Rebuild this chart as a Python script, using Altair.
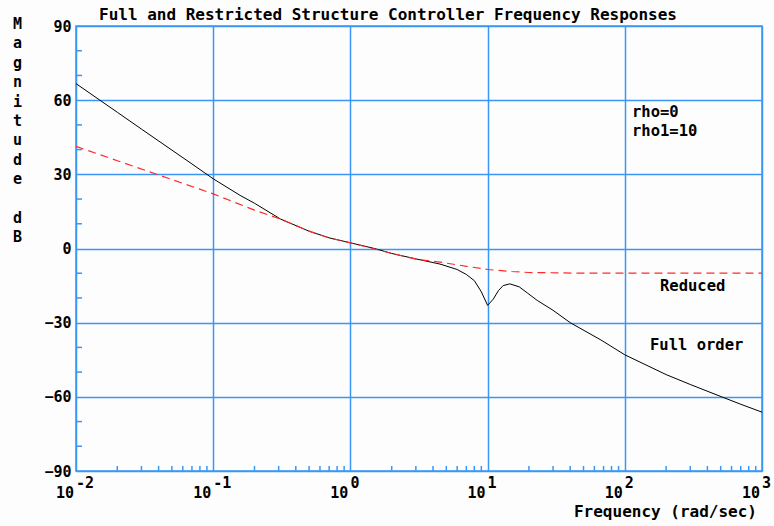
import altair as alt
import pandas as pd

# ---- data ----
full_freq = [0.01, 0.02, 0.03, 0.05, 0.07, 0.1, 0.157, 0.2, 0.31, 0.5, 0.7, 1, 1.5, 2, 3, 4.5, 6, 7, 8, 9, 10,
             11, 12, 13, 14.5, 17, 19.5, 23, 30, 40, 67, 100, 200, 300, 508, 700, 1000]
full_mag = [66.7, 55.1, 48.3, 39.8, 34.2, 28.2, 21.5, 18.3, 11.9, 7.0, 4.3, 2.3, 0.0, -2.0, -4.2, -6.3, -8.5,
            -10.5, -13.0, -17.5, -23.0, -20.5, -17.0, -15.0, -14.3, -15.5, -18.0, -21.0, -25.0, -30.0, -37.0,
            -43.0, -51.0, -55.0, -60.0, -63.0, -66.2]

red_freq = [0.01, 0.02, 0.05, 0.1, 0.2, 0.31, 0.5, 0.7, 1, 2, 3, 4.5, 7, 10, 15, 20, 50, 100, 1000]
red_mag = [41.3, 35.5, 27.9, 22.1, 15.5, 11.9, 7.0, 4.3, 2.3, -2.0, -4.3, -5.5, -7.2, -8.5, -9.3, -9.7,
           -10.0, -10.0, -10.0]

decades = [0.01, 0.1, 1, 10, 100, 1000]
exponents = ["-2", "-1", "0", "1", "2", "3"]
y_major = [-90, -60, -30, 0, 30, 60, 90]
y_minor = [-80, -70, -50, -40, -20, -10, 10, 20, 40, 50, 70, 80]
minor_mult = [2, 3, 4, 5, 6, 7, 8, 9]
x_minor = [m * d for d in decades[:-1] for m in minor_mult]

title_text = "Full and Restricted Structure Controller Frequency Responses"
ylabel_word1 = "M\na\ng\nn\ni\nt\nu\nd\ne"
ylabel_word2 = "d\nB"
xlabel_text = "Frequency (rad/sec)"

BLUE = "#3a96f7"
FONT = "DejaVu Sans Mono"
W, H = 686, 445
LH = 19.4

full_df = pd.DataFrame({"freq": full_freq, "mag": full_mag})
red_df = pd.DataFrame({"freq": red_freq, "mag": red_mag})
dec_df = pd.DataFrame({"freq": decades, "exp": exponents, "ten": ["10"] * len(decades)})
xmin_df = pd.DataFrame({"freq": x_minor})
ymin_df = pd.DataFrame({"mag": y_minor})
one = pd.DataFrame({"a": [0]})

xscale = alt.Scale(type="log", domain=[0.01, 1000], nice=False)
yscale = alt.Scale(domain=[-90, 90], nice=False)
xaxis = alt.Axis(values=decades, grid=True, gridColor=BLUE, gridWidth=1.5, gridOpacity=1,
                 labels=False, ticks=False, domain=False, title=None)
yaxis = alt.Axis(values=y_major, grid=True, gridColor=BLUE, gridWidth=1.5, gridOpacity=1,
                 ticks=False, domain=False, title=None, labelFont=FONT, labelFontWeight="bold",
                 labelFontSize=15, labelColor="black", labelPadding=5)

X = alt.X("freq:Q", scale=xscale, axis=xaxis)
Y = alt.Y("mag:Q", scale=yscale, axis=yaxis)

full_line = alt.Chart(full_df).mark_line(color="black", strokeWidth=1).encode(x=X, y=Y)
red_line = alt.Chart(red_df).mark_line(color="#ff2a2a", strokeWidth=1.2, strokeDash=[8, 5]).encode(x=X, y=Y)

xminor = alt.Chart(xmin_df).mark_rule(color=BLUE, strokeWidth=1.5).encode(
    x=alt.X("freq:Q", scale=xscale, axis=xaxis), y=alt.value(H), y2=alt.value(H - 5))
yminor = alt.Chart(ymin_df).mark_rule(color=BLUE, strokeWidth=1.5).encode(
    y=alt.Y("mag:Q", scale=yscale, axis=yaxis), x=alt.value(0), x2=alt.value(6))

ten_lbl = alt.Chart(dec_df).mark_text(font=FONT, fontWeight="bold", fontSize=15, align="right",
                                      baseline="alphabetic", dx=-2, color="black").encode(
    x=alt.X("freq:Q", scale=xscale, axis=xaxis), y=alt.value(472), text="ten:N")
exp_lbl = alt.Chart(dec_df).mark_text(font=FONT, fontWeight="bold", fontSize=15, align="left",
                                      baseline="alphabetic", dx=0, color="black").encode(
    x=alt.X("freq:Q", scale=xscale, axis=xaxis), y=alt.value(462), text="exp:N")


def label(txt, x, y, align="left", size=15.5, **kw):
    return alt.Chart(one).mark_text(text=txt, font=FONT, fontWeight="bold", fontSize=size,
                                    align=align, baseline="alphabetic", color="black", **kw).encode(
        x=alt.value(x), y=alt.value(y))


title = label(title_text, 312, -6, align="center", size=16)
ylab1 = label(ylabel_word1, -58.5, 3, align="center", size=15, lineBreak="\n", lineHeight=LH)
ylab2 = label(ylabel_word2, -58.5, 3 + 10 * LH, align="center", size=15, lineBreak="\n", lineHeight=LH)
xlab = label(xlabel_text, 681, 491, align="right", size=16)
rho = label("rho=0", 556, 91)
rho1 = label("rho1=10", 556, 110)
reduced = label("Reduced", 584, 265)
fullord = label("Full order", 574, 324)

chart = alt.layer(
    full_line, red_line, xminor, yminor, ten_lbl, exp_lbl,
    title, ylab1, ylab2, xlab, rho, rho1, reduced, fullord
).properties(
    width=W, height=H,
    autosize=alt.AutoSizeParams(type="none"),
    padding={"left": 76, "top": 26, "right": 12, "bottom": 55},
    background="#fdfdfd",
).configure_view(stroke=BLUE, strokeWidth=1.5)

chart.save("out.html", embed_options={"renderer": "svg", "actions": False})
